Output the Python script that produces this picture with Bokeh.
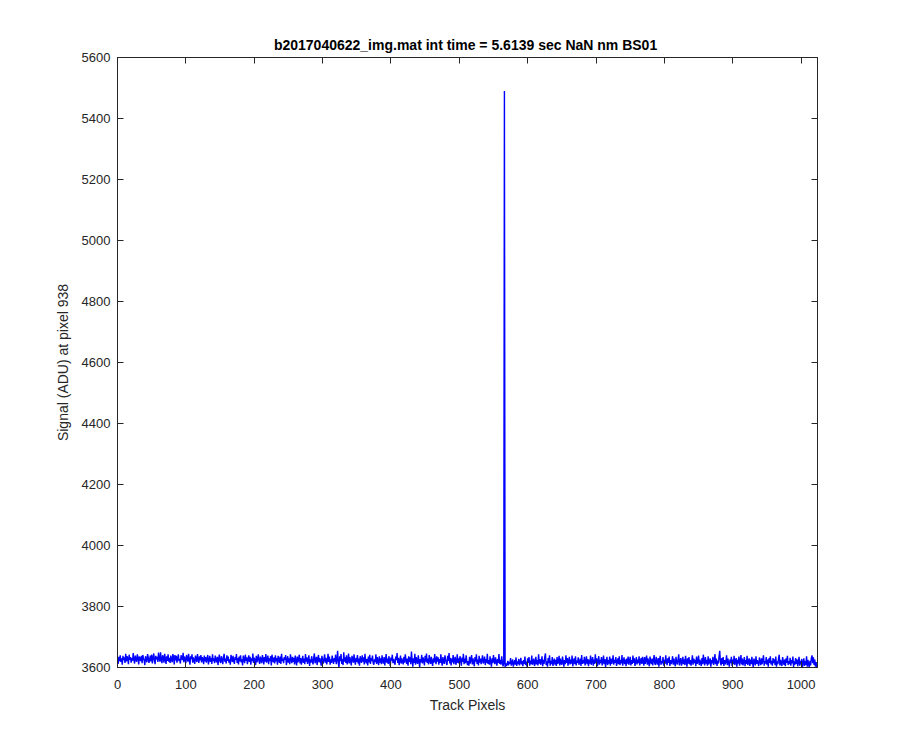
from bokeh.plotting import figure
from bokeh.models import LinearAxis, Range1d, FixedTicker
from bokeh.embed import file_html
from bokeh.resources import INLINE

TITLE = "b2017040622_img.mat int time = 5.6139 sec  NaN nm BS01"
X_LABEL = "Track Pixels"
Y_LABEL = "Signal (ADU) at pixel 938"
X_TICKS = [0, 100, 200, 300, 400, 500, 600, 700, 800, 900, 1000]
Y_TICKS = [3600, 3800, 4000, 4200, 4400, 4600, 4800, 5000, 5200, 5400, 5600]

seg0 = [3612,3635,3621,3640,3618,3630,3609,3638,3624,3633,3615,3645,3620,3637,3628,3611,3642,3625,3634,3616,
3631,3622,3647,3626,3613,3639,3627,3619,3643,3632,3610,3636,3629,3621,3638,3614,3641,3630,3623,3608,
3637,3628,3617,3644,3633,3615,3626,3639,3620,3642,3613,3631,3646,3624,3611,3638,3627,3635,3618,3649,
3629,3619,3650,3625,3614,3640,3633,3616,3645,3628,3612,3637,3622,3643,3619,3632,3615,3639,3626,3617,
3644,3634,3610,3641,3623,3638,3616,3630,3643,3621,3628,3613,3640,3632,3624,3648,3617,3636,3627,3614,
3641,3630,3619,3645,3624,3609,3637,3628,3643,3616,3633,3622,3612,3639,3630,3618,3644,3627,3615,3637,
3623,3641,3617,3634,3628,3611,3639,3620]
seg1 = [3634,3616,3629,3641,3610,3625,3638,3618,3632,3612,3643,3621,3630,3614,3639,3624,3617,3635,3608,3628,
3642,3620,3615,3637,3626,3611,3633,3645,3619,3629,3613,3640,3622,3636,3616,3627,3609,3641,3630,3618,
3638,3621,3612,3634,3625,3644,3615,3631,3610,3636,3620,3640,3617,3627,3607,3639,3629,3614,3642,3622,
3633,3611,3626,3640,3618,3635,3609,3630,3621,3646,3615,3632,3624,3608,3638,3617,3629,3643,3620,3612,
3636,3625,3614,3641,3628,3610,3634,3619,3644,3616,3626,3639,3611,3630,3621,3637,3607,3642,3624,3617,
3633,3613,3640,3620,3631,3609,3638,3626,3615,3636,3612,3645,3621,3629,3614,3634,3625,3641,3608,3622,
3637,3616,3630,3611,3643,3627,3614,3635]
seg2 = [3618,3632,3610,3639,3623,3607,3636,3617,3628,3642,3613,3631,3609,3624,3638,3615,3629,3611,3644,3619,
3633,3612,3625,3640,3605,3627,3616,3637,3620,3610,3632,3646,3614,3623,3635,3608,3629,3641,3617,3631,
3621,3606,3638,3624,3613,3628,3643,3616,3632,3610,3622,3645,3618,3636,3609,3627,3615,3639,3623,3612,
3631,3619,3642,3611,3626,3655,3614,3601,3637,3621,3644,3612,3628,3608,3650,3619,3633,3615,3640,3610,
3623,3646,3613,3634,3620,3607,3638,3627,3616,3643,3622,3609,3632,3618,3641,3613,3629,3606,3637,3624,
3615,3640,3619,3633,3610,3645,3623,3614,3628,3607,3636,3617,3642,3612,3631,3621,3639,3615,3609,3627,
3618,3643,3612,3634,3622,3608,3637,3616]
seg3 = [3630,3611,3640,3619,3613,3634,3607,3625,3644,3616,3629,3612,3637,3620,3605,3633,3623,3642,3614,3628,
3617,3609,3636,3624,3647,3615,3632,3608,3622,3639,3613,3630,3619,3610,3635,3616,3643,3625,3612,3629,
3606,3637,3618,3633,3611,3652,3624,3603,3630,3615,3645,3609,3634,3620,3612,3640,3623,3600,3628,3617,
3642,3613,3633,3622,3607,3638,3619,3646,3615,3629,3610,3641,3624,3612,3635,3618,3605,3630,3616,3644,
3623,3611,3637,3619,3633,3609,3628,3615,3643,3621,3606,3634,3618,3612,3640,3627,3614,3608,3638,3622,
3647,3613,3632,3607,3629,3617,3641,3611,3624,3635,3609,3619,3643,3615,3630,3612,3637,3623,3606,3633,
3618,3645,3611,3629,3614,3640,3621,3608]
seg4 = [3621,3606,3635,3613,3627,3641,3610,3630,3617,3604,3634,3619,3643,3612,3626,3607,3638,3616,3629,3611,
3625,3640,3613,3620,3636,3608,3628,3615,3645,3612,3624,3609,3637,3618,3603,3630,3614,3641,3622,3611,
3633,3619,3606,3628,3615,3644,3612,3625,3609,3637,3618,3604,3614,5490,3602,3613,3605,3611,3622,3607,
3618,3612,3631,3606,3615,3627,3603,3613,3624,3609,3633,3605,3620,3611,3628,3607,3617,3632,3610,3621,
3604,3624,3612,3636,3608,3619,3603,3630,3615,3634,3606,3623,3611,3639,3609,3618,3629,3605,3614,3635,
3610,3624,3607,3643,3613,3628,3609,3619,3637,3604,3625,3612,3633,3646,3608,3620,3603,3631,3614,3640,
3606,3622,3611,3634,3605,3618,3629,3609]
seg5 = [3625,3605,3634,3612,3619,3638,3607,3629,3614,3609,3636,3620,3603,3624,3611,3640,3615,3631,3606,3621,
3635,3610,3626,3613,3639,3604,3618,3630,3611,3637,3607,3623,3615,3633,3609,3620,3629,3605,3641,3612,
3624,3614,3635,3607,3619,3637,3611,3628,3604,3625,3613,3639,3609,3621,3634,3606,3626,3612,3643,3615,
3630,3604,3620,3637,3609,3625,3614,3634,3607,3619,3639,3611,3628,3602,3621,3635,3608,3624,3613,3636,
3606,3629,3612,3620,3640,3609,3625,3615,3634,3605,3618,3630,3611,3637,3608,3624,3614,3641,3606,3620,
3633,3611,3626,3604,3629,3613,3636,3609,3621,3635,3607,3624,3612,3639,3615,3630,3605,3619,3634,3610,
3626,3614,3637,3607,3620,3631,3612,3635]
seg6 = [3619,3606,3634,3612,3625,3639,3609,3630,3615,3604,3636,3620,3611,3629,3607,3624,3641,3613,3608,3635,
3618,3610,3631,3603,3626,3638,3609,3621,3614,3634,3606,3625,3612,3640,3619,3608,3630,3615,3636,3605,
3624,3611,3620,3637,3609,3629,3614,3604,3635,3618,3610,3626,3643,3607,3621,3631,3606,3616,3635,3611,
3627,3608,3638,3619,3603,3630,3613,3634,3610,3624,3606,3620,3640,3609,3629,3614,3625,3604,3636,3612,
3621,3639,3608,3626,3615,3605,3631,3611,3642,3619,3607,3634,3613,3625,3606,3637,3610,3621,3630,3603,
3624,3614,3635,3608,3620,3644,3611,3629,3605,3623,3613,3637,3655,3617,3607,3631,3612,3634,3605,3624,
3610,3619,3640,3608,3629,3614,3603,3626]
seg7 = [3614,3635,3605,3626,3611,3638,3608,3620,3631,3603,3625,3613,3636,3606,3621,3641,3610,3629,3607,3619,
3634,3604,3624,3612,3638,3608,3620,3630,3605,3626,3611,3635,3614,3602,3629,3619,3607,3637,3612,3624,
3615,3605,3633,3620,3608,3630,3611,3625,3640,3606,3621,3613,3634,3609,3626,3603,3630,3615,3637,3610,
3622,3606,3631,3614,3627,3608,3636,3603,3620,3611,3629,3642,3607,3625,3613,3605,3634,3619,3609,3626,
3604,3630,3615,3638,3608,3621,3611,3632,3606,3624,3614,3636,3602,3620,3609,3631,3612,3627,3604,3617,
3635,3606,3622,3610,3628,3601,3616,3630,3605,3621,3609,3637,3603,3625,3612,3600,3622,3607,3631,3640,
3614,3633,3608,3626,3603,3618,3601,3612]

signal = seg0 + seg1 + seg2 + seg3 + seg4 + seg5 + seg6 + seg7
pixels = list(range(1, len(signal) + 1))

FONT = "Liberation Sans"
AXC = "#262626"

p = figure(width=884, height=734, output_backend="svg", toolbar_location=None,
           x_range=Range1d(0, 1024), y_range=Range1d(3600, 5600),
           min_border_left=117, min_border_right=67, min_border_top=57, min_border_bottom=67)
p.line(pixels, signal, line_color="#0000ff", line_width=1.4)

p.grid.visible = False
p.outline_line_color = AXC
p.outline_line_width = 1
p.title.text = TITLE
p.title.align = "center"
p.title.text_font = FONT
p.title.text_font_size = "14px"
p.title.text_font_style = "bold"
p.title.text_color = "#000000"

def style(ax, labels=True):
    ax.axis_line_color = AXC
    ax.major_tick_line_color = AXC
    ax.major_tick_in = 6
    ax.major_tick_out = 0
    ax.minor_tick_line_color = None
    ax.major_label_text_font = FONT
    ax.major_label_text_font_size = "13px"
    ax.major_label_text_color = AXC
    ax.axis_label_text_font = FONT
    ax.axis_label_text_font_size = "14px"
    ax.axis_label_text_font_style = "normal"
    ax.axis_label_text_color = AXC
    if not labels:
        ax.major_label_overrides = {t: "" for t in ax.ticker.ticks}
        ax.major_label_standoff = 0

p.xaxis.ticker = FixedTicker(ticks=X_TICKS)
p.yaxis.ticker = FixedTicker(ticks=Y_TICKS)
p.xaxis.axis_label = X_LABEL
p.yaxis.axis_label = Y_LABEL
style(p.xaxis[0])
style(p.yaxis[0])
p.xaxis.major_label_standoff = 12
p.xaxis.axis_label_standoff = 5
p.yaxis.major_label_standoff = 7
p.yaxis.axis_label_standoff = 8

top = LinearAxis(ticker=FixedTicker(ticks=X_TICKS))
right = LinearAxis(ticker=FixedTicker(ticks=Y_TICKS))
style(top, False)
style(right, False)
p.add_layout(top, "above")
p.add_layout(right, "right")

open("out.html", "w").write(file_html(p, INLINE))
